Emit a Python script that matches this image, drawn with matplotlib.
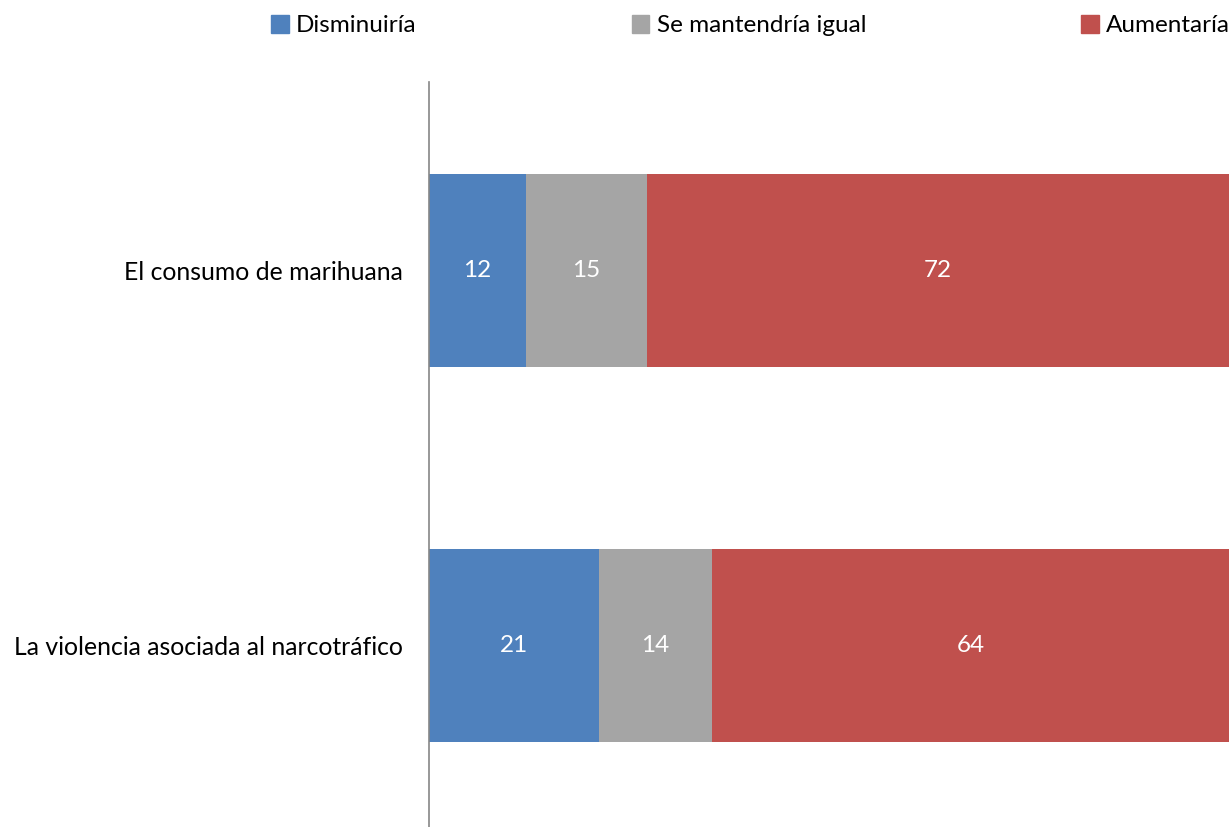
import matplotlib

matplotlib.use("Agg")
import matplotlib.pyplot as plt
from matplotlib.patches import Patch

plt.rcParams["font.family"] = ["Lato", "DejaVu Sans"]

categorias = ["El consumo de marihuana", "La violencia asociada al narcotráfico"]
series = ["Disminuiría", "Se mantendría igual", "Aumentaría"]
disminuiria = [12, 21]
igual = [15, 14]
aumentaria = [72, 64]
colores = ["#4F81BD", "#A5A5A5", "#C0504D"]

fig = plt.figure(figsize=(12.31, 8.27), dpi=100)
ax = fig.add_axes([429 / 1231, 0, 800 / 1231, 745 / 827])

y = range(len(categorias))
left = [0] * len(categorias)
for vals, color in zip([disminuiria, igual, aumentaria], colores):
    bars = ax.barh(y, vals, left=left, height=0.515, color=color)
    for b, v in zip(bars, vals):
        ax.text(b.get_x() + b.get_width() / 2, b.get_y() + b.get_height() / 2,
                str(v), ha="center", va="center", color="white", fontsize=17.5)
    left = [l + v for l, v in zip(left, vals)]

ax.set_xlim(0, 99)
ax.set_ylim(1.485, -0.502)
ax.set_yticks(list(y))
ax.set_yticklabels(categorias, fontsize=17.8)
ax.tick_params(axis="y", length=0, pad=19)
ax.set_xticks([])
for s in ["top", "right", "bottom"]:
    ax.spines[s].set_visible(False)
ax.spines["left"].set_color("#868686")
ax.spines["left"].set_linewidth(1.2)

handles = [Patch(color=c) for c in colores]
fig.legend(handles, series, loc="upper right", bbox_to_anchor=(1.017, 1.008),
           ncol=3, frameon=False, fontsize=17.5, handlelength=0.72,
           handleheight=0.72, handletextpad=0.3, columnspacing=8.85)

fig.savefig("out.png", dpi=100)
